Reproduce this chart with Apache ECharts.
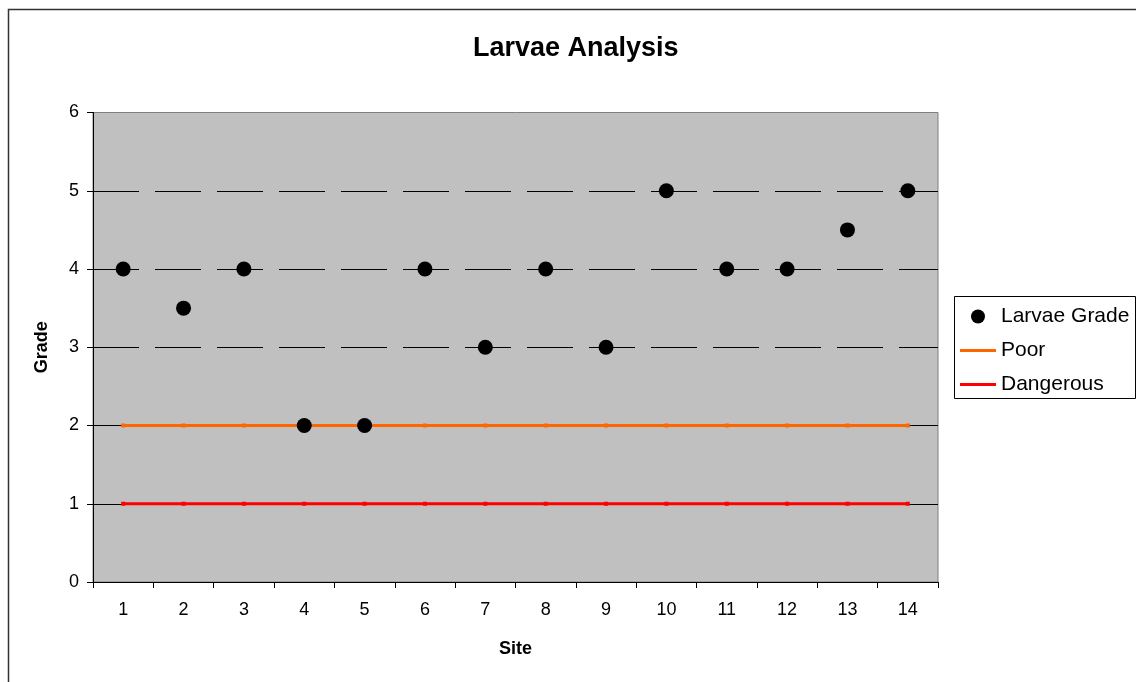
<!DOCTYPE html>
<html>
<head>
<meta charset="utf-8">
<script src="https://cdn.jsdelivr.net/npm/echarts@6/dist/echarts.min.js"></script>
<style>
html,body{margin:0;padding:0;background:#fff;}
#chart{width:1136px;height:682px;}
</style>
</head>
<body>
<div id="chart"></div>
<script>
var sites = ['1','2','3','4','5','6','7','8','9','10','11','12','13','14'];
var larvaeGrade = [4, 3.5, 4, 2, 2, 4, 3, 4, 3, 5, 4, 4, 4.5, 5];
var poor = [2,2,2,2,2,2,2,2,2,2,2,2,2,2];
var dangerous = [1,1,1,1,1,1,1,1,1,1,1,1,1,1];
var yTicks = {min: 0, max: 6, interval: 1};

var font = 'Liberation Sans, Arial, sans-serif';
var lineIcon = 'path://M0,0H36V3H0Z';
var chart = echarts.init(document.getElementById('chart'));
chart.setOption({
  animation: false,
  backgroundColor: '#fff',
  title: {
    text: 'Larvae Analysis',
    left: 473,
    top: 35,
    padding: 0,
    textStyle: {fontFamily: font, fontSize: 27, fontWeight: 'bold', color: '#000'}
  },
  graphic: [
    {type: 'rect', shape: {x: 8.5, y: 9.5, width: 2000, height: 2000}, style: {fill: 'none', stroke: '#333', lineWidth: 1.5}, z: 100},
    {type: 'rect', shape: {x: 954.5, y: 296.5, width: 181, height: 102}, style: {fill: '#fff', stroke: '#000', lineWidth: 1}, z: -1}
  ],
  legend: {
    orient: 'vertical',
    left: 960,
    top: 306,
    padding: 0,
    itemWidth: 36,
    itemHeight: 14,
    itemGap: 13,
    textStyle: {fontFamily: font, fontSize: 21, color: '#000'},
    data: [
      {name: 'Larvae Grade', icon: 'circle'},
      {name: 'Poor', icon: lineIcon},
      {name: 'Dangerous', icon: lineIcon}
    ]
  },
  grid: {
    left: 93, right: 198, top: 112.5, bottom: 100,
    show: true, backgroundColor: '#C0C0C0', borderColor: '#808080', borderWidth: 1,
    containLabel: false
  },
  xAxis: {
    type: 'category',
    data: sites,
    boundaryGap: true,
    name: 'Site',
    nameLocation: 'middle',
    nameGap: 58,
    nameTextStyle: {fontFamily: font, fontSize: 18, fontWeight: 'bold', color: '#000'},
    axisLine: {show: true, lineStyle: {color: '#000', width: 1}},
    axisTick: {show: true, length: 6, lineStyle: {color: '#000'}, alignWithLabel: false},
    axisLabel: {fontFamily: font, fontSize: 18, color: '#000', margin: 19},
    splitLine: {show: false}
  },
  yAxis: {
    type: 'value',
    min: yTicks.min, max: yTicks.max, interval: yTicks.interval,
    name: 'Grade',
    nameLocation: 'middle',
    nameGap: 42,
    nameTextStyle: {fontFamily: font, fontSize: 18, fontWeight: 'bold', color: '#000'},
    axisLine: {show: true, lineStyle: {color: '#000', width: 1}},
    axisTick: {show: true, length: 6, lineStyle: {color: '#000'}},
    axisLabel: {fontFamily: font, fontSize: 18, color: '#000', margin: 14},
    splitLine: {show: true, showMinLine: false, showMaxLine: false, lineStyle: {color: '#000', width: 1, type: [46, 16]}}
  },
  series: [
    {
      name: 'Poor', type: 'line', data: poor,
      symbol: 'rect', symbolSize: 4, showSymbol: true,
      itemStyle: {color: '#FF6600'},
      lineStyle: {color: '#FF6600', width: 3},
      z: 2
    },
    {
      name: 'Dangerous', type: 'line', data: dangerous,
      symbol: 'rect', symbolSize: 4, showSymbol: true,
      itemStyle: {color: '#FF0000'},
      lineStyle: {color: '#FF0000', width: 3},
      z: 2
    },
    {
      name: 'Larvae Grade', type: 'scatter', data: larvaeGrade,
      symbol: 'circle', symbolSize: 15,
      itemStyle: {color: '#000', opacity: 1},
      z: 3
    }
  ]
});
</script>
</body>
</html>
